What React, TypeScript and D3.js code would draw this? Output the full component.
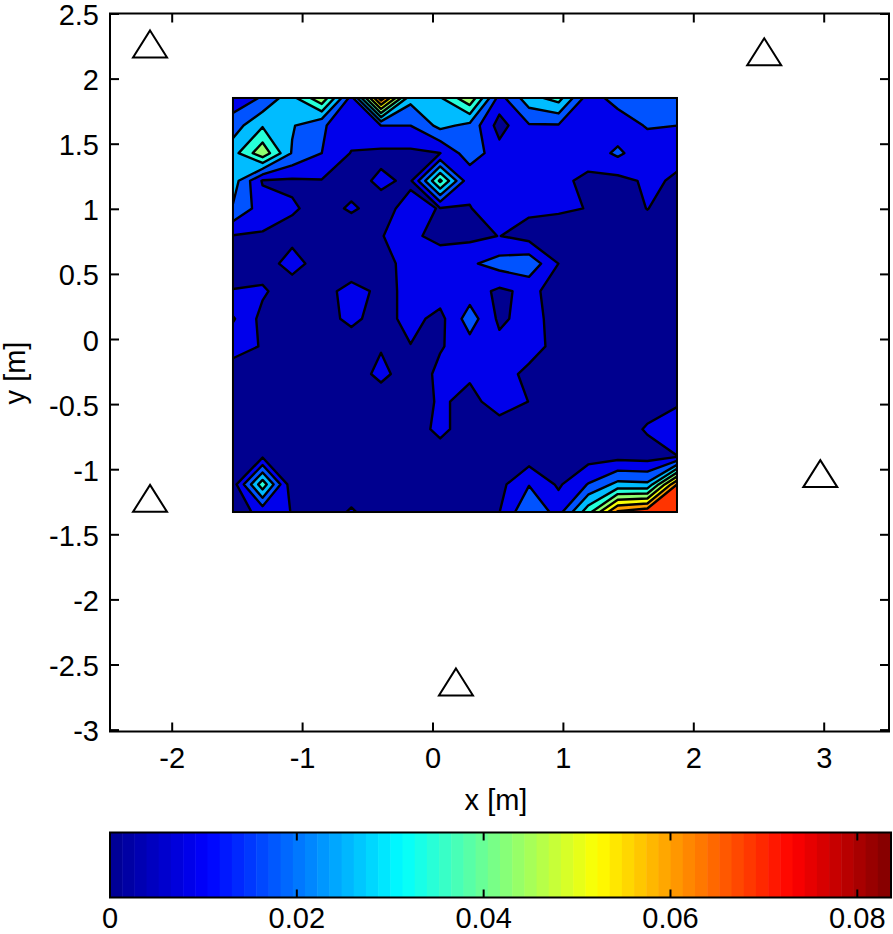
import React from 'react';
import * as d3 from 'd3';

const WIDTH = 893;
const HEIGHT = 934;
const FONT = '"Liberation Sans", Arial, sans-serif';
const FONT_SIZE = 29;

const xTicks = [-2, -1, 0, 1, 2, 3];
const yTicks = [-3, -2.5, -2, -1.5, -1, -0.5, 0, 0.5, 1, 1.5, 2, 2.5];
const barTicks = [0, 0.02, 0.04, 0.06, 0.08];

// extent of the measured area, in metres
const gridX = [-1.534, 1.871];
const gridY = [1.855, -1.325];

// microphones / sensors (triangles)
const sensorX = [-2.17, 2.54, 2.97, -2.17, 0.176];
const sensorY = [2.27, 2.21, -1.03, -1.22, -2.63];

const barMax = 0.0835;
const levelStep = 0.00835;
const levelCount = 9;

// in multiples of levelStep; top row first
const gridValues = [
  [1.4, 2.1, 3.7, 5.8, 1.6, 8.6, 3.3, 3.9, 5.8, 1.6, 3.6, 4.4, 1.5, 2.4, 2.4, 2.3],
  [2.5, 3.9, 3.1, 2.1, 1.5, 2.0, 2.0, 3.3, 2.7, 0.6, 1.9, 1.9, 1.3, 1.4, 2.1, 2.0],
  [3.6, 5.7, 2.9, 2.0, 0.95, 0.8, 0.8, 0.98, 2.6, 1.4, 1.4, 1.5, 1.4, 2.2, 1.3, 1.2],
  [3.5, 0.9, 0.85, 0.95, 0.7, 1.15, 0.85, 5.2, 1.2, 1.25, 1.3, 1.2, 0.8, 0.7, 1.15, 0.9],
  [2.9, 1.5, 1.1, 0.7, 1.1, 0.7, 1.3, 0.95, 0.97, 1.4, 1.2, 1.1, 0.98, 0.6, 1.02, 0.6],
  [0.95, 0.9, 0.7, 0.5, 0.5, 0.98, 1.2, 0.7, 0.75, 1.02, 0.6, 0.6, 0.5, 0.4, 0.6, 0.5],
  [0.4, 0.5, 1.4, 0.5, 0.4, 0.6, 1.4, 1.6, 1.85, 2.4, 2.7, 0.99, 0.4, 0.3, 0.3, 0.3],
  [1.05, 1.15, 0.4, 0.69, 1.3, 0.82, 1.15, 1.5, 1.5, 0.8, 1.25, 0.6, 0.3, 0.3, 0.3, 0.3],
  [2.1, 0.7, 0.3, 0.67, 1.2, 0.64, 1.3, 0.7, 2.5, 0.8, 1.4, 0.6, 0.3, 0.3, 0.3, 0.3],
  [1.3, 0.95, 0.3, 0.4, 0.53, 0.88, 0.97, 0.9, 1.6, 1.3, 1.5, 0.6, 0.3, 0.3, 0.3, 0.3],
  [0.6, 0.4, 0.3, 0.3, 0.2, 1.4, 0.2, 1.3, 1.1, 1.5, 0.7, 0.4, 0.3, 0.3, 0.3, 0.3],
  [0.4, 0.3, 0.3, 0.3, 0.3, 0.1, 0.6, 1.1, 0.8, 1.3, 0.99, 0.4, 0.3, 0.3, 0.6, 0.9],
  [0.3, 0.3, 0.3, 0.3, 0.3, 0.3, 0.6, 1.2, 0.6, 0.7, 0.5, 0.4, 0.4, 0.5, 1.1, 1.4],
  [0.4, 0.9, 0.4, 0.3, 0.3, 0.3, 0.3, 0.6, 0.3, 0.4, 0.5, 0.5, 0.6, 0.7, 0.6, 0.98],
  [0.5, 4.6, 0.3, 0.3, 0.5, 0.3, 0.3, 0.3, 0.3, 0.7, 1.95, 0.85, 2.05, 3.3, 3.2, 8.0],
  [0.5, 1.3, 0.98, 0.5, 1.1, 0.5, 0.3, 0.3, 0.3, 0.98, 2.9, 1.6, 4.6, 8.15, 8.7, 8.8],
];

const jetStops = ['#00008f', '#0000ff', '#00ffff', '#ffff00', '#ff0000', '#800000'];
const jetAt = [0, 0.125, 0.375, 0.625, 0.875, 1];

const xScale = d3.scaleLinear().domain([-2.5, 3.5]).range([107, 889.4]);
const yScale = d3.scaleLinear().domain([-3, 2.5]).range([730.1, 14]);
const barScale = d3.scaleLinear().domain([0, barMax]).range([110, 890]);
const jet = d3.scaleLinear<string>().domain(jetAt.map((t) => t * barMax)).range(jetStops);

const box = { left: 110, top: 13.5, right: 889, bottom: 731.5 };
const barBox = { left: 110, top: 832.5, right: 891, bottom: 897.5 };

// repeat the outer rows and columns, so bands run straight out of the clip rect
const rows = gridValues.length;
const cols = gridValues[0].length;
const padded: number[] = [];
for (let r = -1; r <= rows; r++) {
  for (let c = -1; c <= cols; c++) {
    const rr = Math.max(0, Math.min(rows - 1, r));
    const cc = Math.max(0, Math.min(cols - 1, c));
    padded.push(gridValues[rr][cc] * levelStep);
  }
}
const levels = d3.range(levelCount).map((k) => k * levelStep);
const bands = d3.contours().size([cols + 2, rows + 2]).thresholds(levels)(padded);

const colPx = d3.scaleLinear().domain([0, cols - 1]).range(gridX.map((v) => xScale(v)));
const rowPx = d3.scaleLinear().domain([0, rows - 1]).range(gridY.map((v) => yScale(v)));
const bandPath = d3.geoPath(
  d3.geoTransform({
    point(x, y) {
      this.stream.point(colPx(x - 1.5), rowPx(y - 1.5));
    },
  })
);

const triangle = {
  draw(ctx: any) {
    ctx.moveTo(0, -13.5);
    ctx.lineTo(17, 13.5);
    ctx.lineTo(-17, 13.5);
    ctx.closePath();
  },
};
const sensorPath = d3.symbol().type(triangle)() as string;

const barSteps = d3.range(64);

export default function App() {
  const clip = {
    x: colPx(0),
    y: rowPx(0),
    width: colPx(cols - 1) - colPx(0),
    height: rowPx(rows - 1) - rowPx(0),
  };
  const label = { fontFamily: FONT, fontSize: FONT_SIZE, fill: '#000' };

  return (
    <svg
      width={WIDTH}
      height={HEIGHT}
      style={{ position: 'absolute', left: 0, top: 0, background: '#fff' }}
    >
      <defs>
        <clipPath id="grid-clip">
          <rect {...clip} />
        </clipPath>
      </defs>

      <g clipPath="url(#grid-clip)">
        {bands.map((b, i) => (
          <path
            key={i}
            d={bandPath(b as any) as string}
            fill={jet(b.value * 1.03)}
            fillRule="evenodd"
            stroke="#000"
            strokeWidth={2.4}
            strokeLinejoin="round"
          />
        ))}
      </g>
      <rect {...clip} fill="none" stroke="#000" strokeWidth={2} />

      {sensorX.map((x, i) => (
        <path
          key={i}
          d={sensorPath}
          transform={`translate(${xScale(x)},${yScale(sensorY[i])})`}
          fill="none"
          stroke="#000"
          strokeWidth={2}
        />
      ))}

      <rect
        x={box.left}
        y={box.top}
        width={box.right - box.left}
        height={box.bottom - box.top}
        fill="none"
        stroke="#000"
        strokeWidth={2}
      />
      {xTicks.map((t) => (
        <g key={t}>
          <line x1={xScale(t)} x2={xScale(t)} y1={box.bottom} y2={box.bottom - 9} stroke="#000" strokeWidth={2} />
          <line x1={xScale(t)} x2={xScale(t)} y1={box.top} y2={box.top + 9} stroke="#000" strokeWidth={2} />
          <text x={xScale(t)} y={768} textAnchor="middle" {...label}>{t}</text>
        </g>
      ))}
      {yTicks.map((t) => (
        <g key={t}>
          <line x1={box.left} x2={box.left + 9} y1={yScale(t)} y2={yScale(t)} stroke="#000" strokeWidth={2} />
          <line x1={box.right} x2={box.right - 9} y1={yScale(t)} y2={yScale(t)} stroke="#000" strokeWidth={2} />
          <text x={99} y={yScale(t) + 11} textAnchor="end" {...label}>{t}</text>
        </g>
      ))}
      <text x={496} y={810} textAnchor="middle" {...label}>x [m]</text>
      <text transform="translate(25,373) rotate(-90)" textAnchor="middle" {...label}>y [m]</text>

      {barSteps.map((i) => (
        <rect
          key={i}
          x={barScale((i * barMax) / 64)}
          y={barBox.top}
          width={barScale(barMax / 64) - barScale(0) + 0.5}
          height={barBox.bottom - barBox.top}
          fill={jet(((i + 0.5) * barMax) / 64)}
        />
      ))}
      <rect
        x={barBox.left}
        y={barBox.top}
        width={barBox.right - barBox.left}
        height={barBox.bottom - barBox.top}
        fill="none"
        stroke="#000"
        strokeWidth={2}
      />
      {barTicks.map((t) => (
        <g key={t}>
          <line x1={barScale(t)} x2={barScale(t)} y1={barBox.top} y2={barBox.top + 8} stroke="#000" strokeWidth={2} />
          <line x1={barScale(t)} x2={barScale(t)} y1={barBox.bottom} y2={barBox.bottom - 8} stroke="#000" strokeWidth={2} />
          <text x={barScale(t)} y={927.8} textAnchor="middle" {...label}>{t}</text>
        </g>
      ))}
    </svg>
  );
}
